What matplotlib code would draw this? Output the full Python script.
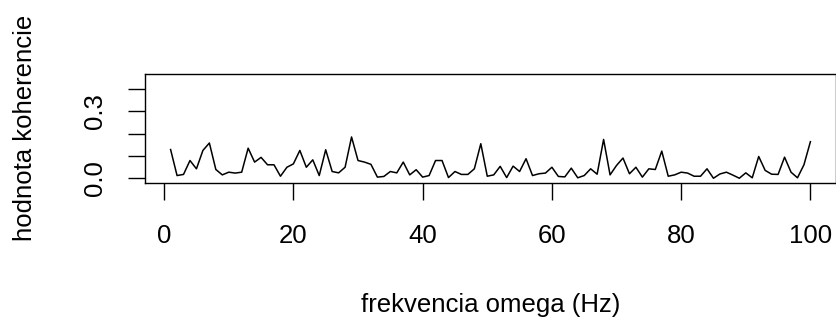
import numpy as np
import matplotlib
matplotlib.use("Agg")
import matplotlib.pyplot as plt

# ---------------------------
# Data
# ---------------------------
freq = np.arange(1, 101)
coherence = [
    0.129, 0.013, 0.018, 0.080, 0.043, 0.125, 0.158, 0.040, 0.016, 0.028,
    0.024, 0.028, 0.135, 0.073, 0.094, 0.061, 0.061, 0.010, 0.050, 0.065,
    0.125, 0.050, 0.083, 0.013, 0.128, 0.031, 0.025, 0.050, 0.185, 0.080,
    0.073, 0.063, 0.006, 0.009, 0.031, 0.025, 0.073, 0.016, 0.039, 0.006,
    0.013, 0.080, 0.080, 0.004, 0.031, 0.018, 0.018, 0.043, 0.155, 0.010,
    0.016, 0.054, 0.004, 0.055, 0.031, 0.088, 0.013, 0.021, 0.024, 0.050,
    0.009, 0.007, 0.046, 0.003, 0.013, 0.043, 0.019, 0.174, 0.016, 0.058,
    0.091, 0.021, 0.050, 0.006, 0.043, 0.040, 0.122, 0.010, 0.016, 0.028,
    0.024, 0.010, 0.010, 0.043, 0.001, 0.020, 0.028, 0.015, 0.001, 0.025,
    0.003, 0.098, 0.036, 0.019, 0.018, 0.095, 0.028, 0.003, 0.061, 0.164,
]

x_ticks = [0, 20, 40, 60, 80, 100]
y_ticks = [0.0, 0.1, 0.2, 0.3, 0.4]
y_tick_labels = ["0.0", "", "", "0.3", ""]   # R drops the overlapping ones
x_label = "frekvencia omega (Hz)"
y_label = "hodnota koherencie"

# ---------------------------
# Plot (mimic R base graphics)
# ---------------------------
plt.rcParams["font.family"] = ["Liberation Sans", "DejaVu Sans"]
FS = 18.5

W, H = 837, 325
fig = plt.figure(figsize=(W / 100, H / 100), dpi=100)
ax = fig.add_axes([145 / W, 1 - 182.5 / H, 691 / W, 109 / H])

ax.plot(freq, coherence, color="black", linewidth=1.1)

# R style 4% axis extension
x_ext = 0.04 * (freq.max() - freq.min())
ax.set_xlim(freq.min() - x_ext, freq.max() + x_ext)
ax.set_ylim(0 - 0.04 * 0.45, 0.45 + 0.04 * 0.45)

ax.set_xticks(x_ticks)
ax.set_xticklabels([str(t) for t in x_ticks])
ax.set_yticks(y_ticks)
ax.set_yticklabels(y_tick_labels)

for s in ax.spines.values():
    s.set_linewidth(1.0)
    s.set_color("black")

ax.tick_params(axis="both", direction="out", length=12.2, width=1.0,
               labelsize=FS, colors="black")
ax.tick_params(axis="x", pad=18)
ax.tick_params(axis="y", pad=15)
for lbl in ax.get_yticklabels():
    lbl.set_rotation(90)
    lbl.set_va("center")

ax.set_xlabel(x_label, fontsize=FS)
ax.xaxis.label.set_va("center")
ax.xaxis.set_label_coords(491 / W, 1 - 305 / H, transform=fig.transFigure)

ax.set_ylabel(y_label, fontsize=FS)
ax.yaxis.label.set_va("center")
ax.yaxis.set_label_coords(25 / W, 1 - 128 / H, transform=fig.transFigure)

fig.savefig("out.png", dpi=100)
